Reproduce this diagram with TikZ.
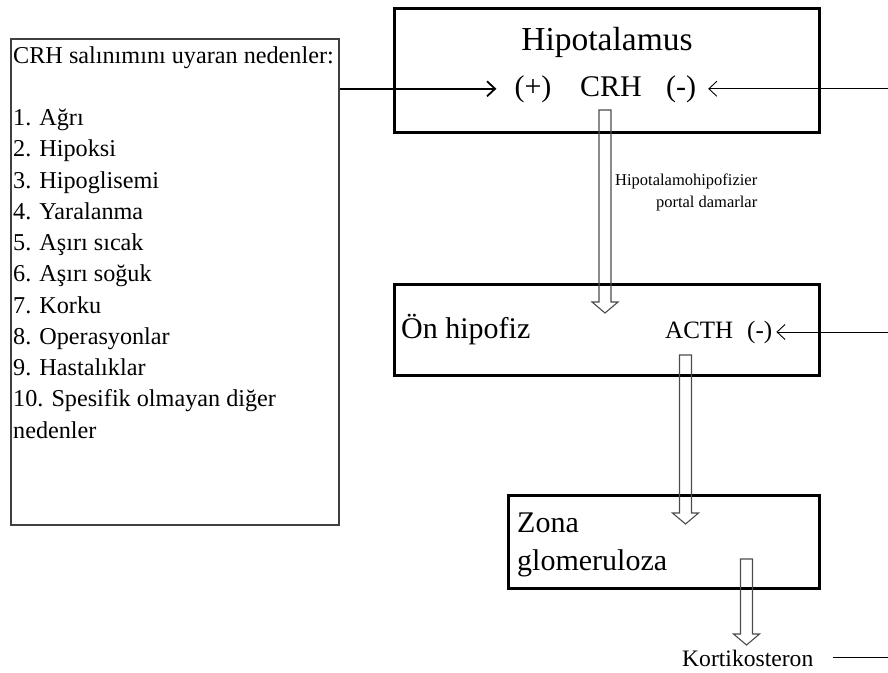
\documentclass[tikz,border=0pt]{standalone}
\usepackage{fontspec}
\setmainfont{Liberation Serif}
\usetikzlibrary{arrows.meta, calc, positioning}

\newcommand{\hollowarrow}[2]{%
	\draw[hollow] ($(#1)+(-6,0)$) -- ($(#2)+(-6,-11)$) -- ($(#2)+(-13,-11)$) -- (#2)
		-- ($(#2)+(13,-11)$) -- ($(#2)+(6,-11)$) -- ($(#1)+(6,0)$) -- cycle;}

\begin{document}
\begin{tikzpicture}[x=1pt, y=-1pt, >={Straight Barb[length=8pt, width=15pt]},
	causebox/.style={draw=black!75, line width=1.6pt, anchor=north west, inner sep=0pt},
	organ/.style={draw, line width=2.6pt, anchor=north west, inner sep=0pt},
	lbl/.style={inner sep=0pt, font=\fontsize{#1}{#1}\selectfont},
	hollow/.style={draw=black!70, line width=1.1pt},
	feedback/.style={->, line width=0.9pt}]
		\useasboundingbox (0,0) rectangle (888,672);
		\coordinate (rim) at (888,0);
		\node[causebox, minimum width=328pt, minimum height=486pt] (causes) at (10,38) {};
		\node[organ, minimum width=425pt, minimum height=124pt] (hyp) at (393,7) {};
		\node[organ, minimum width=425pt, minimum height=91pt] (onhip) at (393,283) {};
		\node[organ, minimum width=311pt, minimum height=93pt] (zona) at (507,494) {};
		\node[lbl=24.2, anchor=base west] (head) at (13,63) {CRH salınımını uyaran nedenler:};
		\foreach \lbltext [count=\i] in {1. Ağrı, 2. Hipoksi, 3. Hipoglisemi, 4. Yaralanma,
			5. Aşırı sıcak, 6. Aşırı soğuk, 7. Korku, 8. Operasyonlar, 9. Hastalıklar,
			10. Spesifik olmayan diğer, nedenler}
			\node[lbl=24.2, anchor=base west] (cause\i) at (13,{125.5+31.25*(\i-1)}) {\lbltext};
		\node[lbl=33.5, anchor=base] (hyptitle) at (607,50) {Hipotalamus};
		\node[lbl=30, anchor=base] (plus) at (533,96) {(+)};
		\node[lbl=30, anchor=base] (crh) at (611,96) {CRH};
		\node[lbl=30, anchor=base] (minus) at (681,96) {(-)};
		\node[lbl=30, anchor=base west] (onhiptitle) at (401,338) {Ön hipofiz};
		\node[lbl=25, anchor=base west] (acth) at (665,338) {ACTH};
		\node[lbl=25, anchor=base west] (acthminus) at (747,338) {(-)};
		\node[lbl=30, anchor=base west] (zonatitle) at (517,532) {Zona};
		\node[lbl=30, anchor=base west] (zonatitle2) at (517,570) {glomeruloza};
		\node[lbl=16.5, anchor=base west] (portal1) at (615,185) {Hipotalamohipofizier};
		\node[lbl=16.5, anchor=base east] (portal2) at ($(portal1.base east)+(0,22)$) {portal damarlar};
		\node[lbl=23.6, anchor=base west] (kort) at (682,666) {Kortikosteron};
		\coordinate (crhout) at (605,110);
		\coordinate (onhipin) at (605,313);
		\coordinate (acthout) at (685.5,355);
		\coordinate (zonain) at (685.5,524);
		\coordinate (zonaout) at (746.5,559);
		\coordinate (kortin) at (746.5,645);
		\draw[->, line width=1.8pt, shorten >=18pt] (causes.east |- plus.west) -- (plus.west);
		\draw[feedback, shorten >=12pt] (rim |- minus.east) -- (minus.east);
		\draw[feedback, shorten >=4pt] (rim |- acthminus.east) -- (acthminus.east);
		\draw[line width=0.9pt] ([xshift=19pt]kort.east) -- (rim |- kort.east);
		\hollowarrow{crhout}{onhipin}
		\hollowarrow{acthout}{zonain}
		\hollowarrow{zonaout}{kortin}
\end{tikzpicture}
\end{document}
